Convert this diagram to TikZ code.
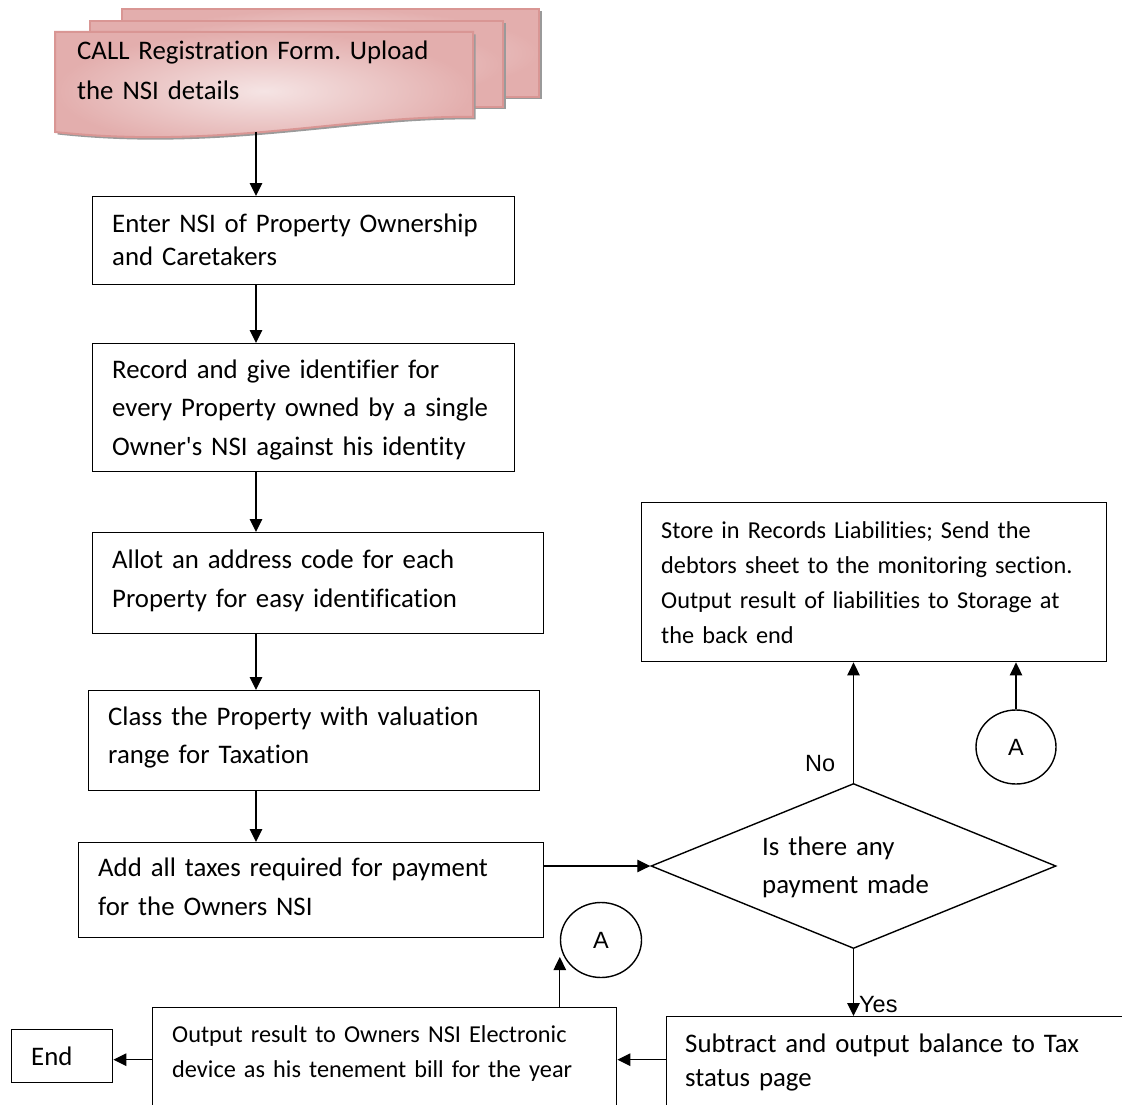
\documentclass[tikz,border=0pt]{standalone}
\usepackage{fontspec}
\setmainfont{Carlito}[Ligatures={TeXOff,CommonOff}]
\newfontfamily\arialf{Liberation Sans}
\usetikzlibrary{arrows.meta,shapes.geometric}
\definecolor{docborder}{HTML}{D99694}
\definecolor{doclight}{HTML}{F5E4E4}
\definecolor{docdark}{HTML}{E3AEAD}
\definecolor{docshadow}{HTML}{9A9A9A}
\frenchspacing
\begin{document}
\begin{tikzpicture}[x=1pt,y=-1pt,
  box/.style={draw, line width=1.4pt, inner sep=0pt, anchor=north west},
  txt/.style={anchor=base west, inner sep=0pt, text width=470pt, align=left},
  big/.style={font=\fontsize{26.8}{#1}\selectfont},
  small/.style={font=\fontsize{24.3}{#1}\selectfont},
  lab/.style={anchor=base west, inner sep=0pt, font=\arialf\fontsize{23.5}{28}\selectfont},
  conn/.style={draw, ellipse, line width=1.4pt, inner sep=0pt, font=\arialf\fontsize{23.5}{28}\selectfont},
  arr/.style={-{Triangle[length=13pt,width=12.5pt]}, line width=1.3pt},
  layer/.style={shading=radial, inner color=doclight, outer color=docdark, draw=docborder, line width=2pt}
]
\useasboundingbox (0,0) rectangle (1122,1105);
\clip (0,0) rectangle (1122,1105);
\fill[white] (0,0) rectangle (1122,1105);

% multi-document shape
\fill[docshadow] (124.5,11.5) -- (541.5,11.5) -- (541.5,99.5) -- (124.5,99.5) -- cycle;
\shadedraw[layer] (122,9) -- (539,9) -- (539,97) -- (122,97) -- cycle;
\fill[docshadow] (92.5,23.5) -- (505.5,23.5) -- (505.5,109.5) -- (92.5,109.5) -- cycle;
\shadedraw[layer] (90,21) -- (503,21) -- (503,107) -- (90,107) -- cycle;
\fill[docshadow] (57.5,34.5) -- (475.5,34.5) -- (475.5,119.5) .. controls (352.5,117.5) and (222.5,152.5) .. (57.5,134.5) -- cycle;
\shadedraw[layer] (55,32) -- (473,32) -- (473,117) .. controls (350,115) and (220,150) .. (55,132) -- cycle;
\node[txt, big=40] (tdoc) at (77,60) {CALL Registration Form. Upload\\the NSI details};
\coordinate (docb) at (256,132);

% left column boxes
\node[box, minimum width=422pt, minimum height=88pt] (b1) at (92,196) {};
\node[txt, big=33] (t1) at (112,232) {Enter NSI of Property Ownership\\and Caretakers};
\node[box, minimum width=422pt, minimum height=128pt] (b2) at (92,343) {};
\node[txt, big=38.5] (t2) at (112,378) {Record and give identifier for\\every Property owned by a single\\Owner's NSI against his identity};
\node[box, minimum width=451pt, minimum height=101pt] (b3) at (92,532) {};
\node[txt, big=39] (t3) at (112,568) {Allot an address code for each\\Property for easy identification};
\node[box, minimum width=451pt, minimum height=100pt] (b4) at (88,690) {};
\node[txt, big=38] (t4) at (108,725) {Class the Property with valuation\\range for Taxation};
\node[box, minimum width=465pt, minimum height=95pt] (add) at (78,842) {};
\node[txt, big=39] (tadd) at (98,876) {Add all taxes required for payment\\for the Owners NSI};

% decision
\node[draw, diamond, line width=1.4pt, inner sep=0pt, minimum width=405pt, minimum height=165pt] (dia) at (853.5,866) {};
\node[txt, big=38] (tdia) at (762,855) {Is there any\\payment made};

% store box
\node[box, minimum width=465pt, minimum height=159pt] (store) at (641,502) {};
\node[txt, small=35] (tstore) at (661,538) {Store in Records Liabilities; Send the\\debtors sheet to the monitoring section.\\Output result of liabilities to Storage at\\the back end};

% connectors A
\node[conn, minimum width=80pt, minimum height=74pt] (a2) at (1016,747) {A};
\node[conn, minimum width=81pt, minimum height=75pt] (a1) at (601,940) {A};

% bottom boxes
\node[box, minimum width=464pt, minimum height=104pt] (out) at (152,1007) {};
\node[txt, small=35] (tout) at (172,1042) {Output result to Owners NSI Electronic\\device as his tenement bill for the year};
\node[box, minimum width=500pt, minimum height=140pt] (sub) at (666,1016) {};
\node[txt, big=34] (tsub) at (685,1052) {Subtract and output balance to Tax\\status page};
\node[box, minimum width=101pt, minimum height=53pt] (endb) at (11,1029) {};
\node[txt, big=30] (tend) at (31,1065) {End};

% labels
\node[lab] (lno) at (805,771) {No};
\node[lab] (lyes) at (859,1012) {Yes};

% connectors
\draw[arr] (docb) -- (docb |- b1.north);
\draw[arr] (b1.south -| docb) -- (b2.north -| docb);
\draw[arr] (b2.south -| docb) -- (b3.north -| docb);
\draw[arr] (b3.south -| docb) -- (b4.north -| docb);
\draw[arr] (b4.south -| docb) -- (add.north -| docb);
\draw[arr] (add.east |- dia.west) -- (dia.west);
\draw[arr] (dia.north) -- (dia.north |- store.south);
\draw[arr] (a2.north) -- (a2.north |- store.south);
\draw[arr] (dia.south) -- (dia.south |- sub.north);
\draw[arr] (sub.west |- out.east) -- (out.east);
\draw[arr] (out.west) -- (out.west -| endb.east);
\draw[arr] (out.north -| a1.west) -- ([yshift=-17pt]a1.west);
\end{tikzpicture}
\end{document}
